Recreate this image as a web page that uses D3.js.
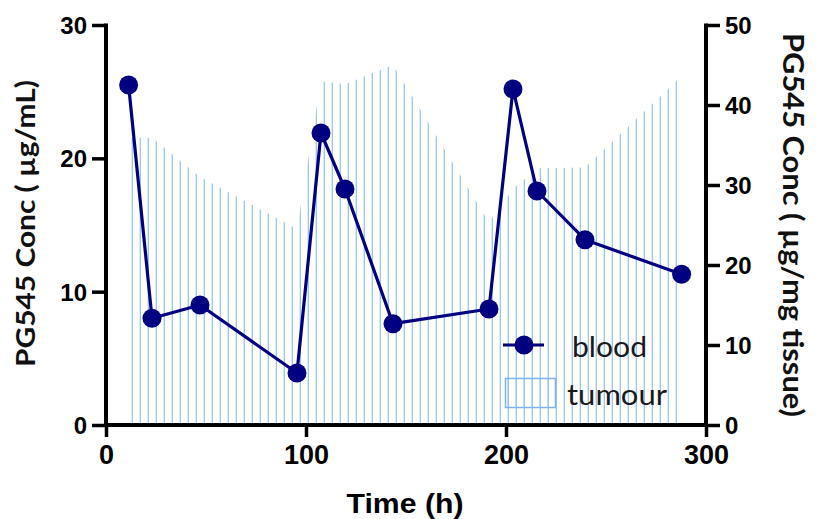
<!DOCTYPE html>
<html><head><meta charset="utf-8">
<script src="https://cdn.jsdelivr.net/npm/d3@7"></script>
<style>body{margin:0;background:#fff}svg{display:block}</style>
</head><body>
<script>
const hours = [11.3, 23, 47, 95.5, 107.5, 119.5, 143.5, 191.5, 203.5, 215.5, 239.5, 287.8];
const blood = [25.5, 8.0, 9.0, 3.9, 21.9, 17.7, 7.6, 8.7, 25.2, 17.55, 13.9, 11.3];
const tumour = [35.9, 35.9, 31.0, 24.5, 43.0, 42.6, 45.0, 25.3, 29.5, 32.1, 32.2, 43.6];
const xTicks = [0, 100, 200, 300];
const yLeftTicks = [0, 10, 20, 30];
const yRightTicks = [0, 10, 20, 30, 40, 50];

const W = 816, H = 519;
const svg = d3.select("body").append("svg").attr("width", W).attr("height", H);
const x = d3.scaleLinear().domain([0, 300]).range([106, 706]);
const yL = d3.scaleLinear().domain([0, 30]).range([425, 25]);
const yR = d3.scaleLinear().domain([0, 50]).range([425, 25]);

const defs = svg.append("defs");
const pat = defs.append("pattern").attr("id", "hatch").attr("patternUnits", "userSpaceOnUse")
  .attr("x", 0).attr("y", 0).attr("width", 8).attr("height", 8);
pat.append("line").attr("x1", 4.3).attr("x2", 4.3).attr("y1", 0).attr("y2", 8)
  .attr("stroke", "#98c4f6").attr("stroke-width", 1.3);

const tData = hours.map((h, i) => ({h, v: tumour[i]}));
svg.append("path").datum(tData)
  .attr("d", d3.area().x(d => x(d.h)).y0(yR(0)).y1(d => yR(d.v)))
  .attr("fill", "url(#hatch)");

// axes
const axG = svg.append("g");
const axStyle = g => {
  g.select(".domain").remove();
  g.selectAll(".tick line").attr("stroke", "#000").attr("stroke-width", 3.5);
  g.selectAll(".tick text").attr("fill", "#000").attr("font-family", "Liberation Sans, Arial, sans-serif").attr("font-weight", "bold");
};
// domain lines
axG.append("line").attr("x1", x(0)).attr("x2", x(300)).attr("y1", 425).attr("y2", 425).attr("stroke", "#000").attr("stroke-width", 4);
axG.append("line").attr("x1", x(0)).attr("x2", x(0)).attr("y1", yL(30) - 1.5).attr("y2", 425).attr("stroke", "#000").attr("stroke-width", 4);
axG.append("line").attr("x1", x(300)).attr("x2", x(300)).attr("y1", yR(50) - 1.5).attr("y2", 425).attr("stroke", "#000").attr("stroke-width", 4);

const gx = svg.append("g").attr("transform", "translate(0,425)")
  .call(d3.axisBottom(x).tickValues(xTicks).tickSize(12).tickPadding(8).tickFormat(d3.format("d")));
axStyle(gx);
gx.selectAll(".tick text").attr("font-size", 27).attr("dy", "0.72em").attr("transform", "scale(1.0,1)");

const gl = svg.append("g").attr("transform", `translate(${x(0)},0)`)
  .call(d3.axisLeft(yL).tickValues(yLeftTicks).tickSize(14).tickPadding(5).tickFormat(d3.format("d")));
axStyle(gl);
gl.selectAll(".tick text").attr("font-size", 24).attr("dy", "0.36em");

const gr = svg.append("g").attr("transform", `translate(${x(300)},0)`)
  .call(d3.axisRight(yR).tickValues(yRightTicks).tickSize(14).tickPadding(5).tickFormat(d3.format("d")));
axStyle(gr);
gr.selectAll(".tick text").attr("font-size", 24).attr("dy", "0.36em");

// titles
svg.append("text").text("Time (h)").attr("x", 405).attr("y", 513)
  .attr("text-anchor", "middle").attr("font-family", "Liberation Sans, Arial, sans-serif")
  .attr("font-weight", "bold").attr("font-size", 28).attr("textLength", 117).attr("lengthAdjust", "spacingAndGlyphs");
svg.append("text").text("PG545 Conc ( µg/mL)")
  .attr("transform", "translate(35,223.5) rotate(-90)").attr("text-anchor", "middle")
  .attr("font-family", "Lato, sans-serif").attr("font-weight", "bold").attr("font-size", 27)
  .attr("fill", "#111").attr("textLength", 287).attr("lengthAdjust", "spacingAndGlyphs");
svg.append("text").text("PG545 Conc ( µg/mg tissue)")
  .attr("transform", "translate(783,225) rotate(90)").attr("text-anchor", "middle")
  .attr("font-family", "Lato, sans-serif").attr("font-weight", "bold").attr("font-size", 29)
  .attr("fill", "#111").attr("textLength", 384).attr("lengthAdjust", "spacingAndGlyphs");

// blood series
const navy = "#000080";
const bData = hours.map((h, i) => ({h, v: blood[i]}));
svg.append("path").datum(bData)
  .attr("d", d3.line().x(d => x(d.h)).y(d => yL(d.v)))
  .attr("fill", "none").attr("stroke", navy).attr("stroke-width", 3.2).attr("stroke-linejoin", "round");
svg.selectAll("circle.b").data(bData).enter().append("circle").attr("class", "b")
  .attr("cx", d => x(d.h)).attr("cy", d => yL(d.v)).attr("r", 9.5).attr("fill", navy);

// legend
const lg = svg.append("g");
lg.append("line").attr("x1", 503).attr("x2", 544).attr("y1", 345).attr("y2", 345).attr("stroke", navy).attr("stroke-width", 3.2);
lg.append("circle").attr("cx", 524).attr("cy", 345).attr("r", 9.5).attr("fill", navy);
lg.append("text").text("blood").attr("x", 572).attr("y", 357).attr("font-family", "Lato, sans-serif")
  .attr("font-size", 29).attr("fill", "#1a1a1a").attr("textLength", 75).attr("lengthAdjust", "spacingAndGlyphs");
lg.append("rect").attr("x", 505.5).attr("y", 378.5).attr("width", 50).attr("height", 29)
  .attr("fill", "url(#hatch)").attr("stroke", "#7fb2f0").attr("stroke-width", 1.5);
lg.append("text").text("tumour").attr("x", 567).attr("y", 405).attr("font-family", "Lato, sans-serif")
  .attr("font-size", 29).attr("fill", "#1a1a1a").attr("textLength", 100).attr("lengthAdjust", "spacingAndGlyphs");
</script>
</body></html>
